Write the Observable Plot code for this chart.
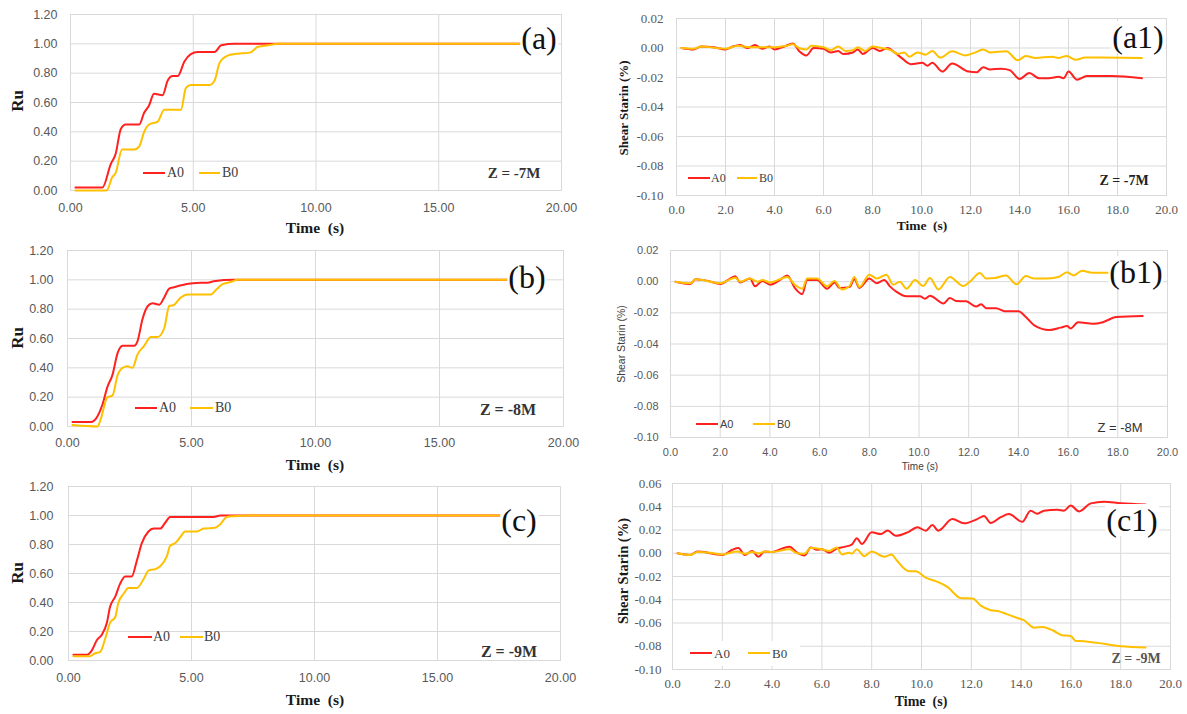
<!DOCTYPE html>
<html><head><meta charset="utf-8">
<script src="https://cdn.jsdelivr.net/npm/d3@7"></script>
<script src="https://cdn.jsdelivr.net/npm/@observablehq/plot@0.6"></script>
<style>
body{margin:0;background:#fff;}
#root{position:relative;width:1187px;height:714px;overflow:hidden;background:#fff;}
#root svg{position:absolute;}
.abs{position:absolute;white-space:pre;line-height:1;}
.serif{font-family:"Liberation Serif","Times New Roman",serif;}
.sans{font-family:"Liberation Sans",Arial,sans-serif;}
</style></head><body><div id="root"></div>
<script>
// ---- tick values ----
const ruXTicks = [0, 5, 10, 15, 20];
const ruYTicks = [0, 0.2, 0.4, 0.6, 0.8, 1.0, 1.2];
const stXTicks = [0, 2, 4, 6, 8, 10, 12, 14, 16, 18, 20];
const stYTicks = [-0.10, -0.08, -0.06, -0.04, -0.02, 0.00, 0.02];
const stYTicksC = [-0.10, -0.08, -0.06, -0.04, -0.02, 0.00, 0.02, 0.04, 0.06];

// ---- series: [time (s), value] ----
const ruA_A0 = [[0.2,0.02],[1.3,0.02],[1.64,0.18],[1.84,0.25],[2.05,0.42],[2.25,0.45],[2.8,0.45],[3.0,0.53],[3.2,0.58],[3.4,0.66],[3.75,0.65],[3.96,0.75],[4.16,0.78],[4.37,0.78],[4.64,0.88],[4.9,0.93],[5.18,0.945],[5.87,0.945],[6.14,0.99],[6.7,1.0],[19,1.0]];
const ruA_B0 = [[0.2,0.0],[1.47,0.0],[1.7,0.09],[1.84,0.12],[2.1,0.28],[2.6,0.28],[2.8,0.30],[3.0,0.40],[3.2,0.45],[3.55,0.47],[3.82,0.55],[4.5,0.55],[4.7,0.70],[4.9,0.72],[5.66,0.72],[5.87,0.75],[6.07,0.87],[6.4,0.92],[6.7,0.93],[6.96,0.935],[7.3,0.94],[7.64,0.98],[8.05,0.99],[8.46,1.0],[19,1.0]];
const ruB_A0 = [[0.2,0.03],[0.94,0.03],[1.21,0.07],[1.41,0.15],[1.61,0.27],[1.81,0.35],[2.02,0.50],[2.22,0.55],[2.69,0.55],[2.82,0.58],[3.02,0.73],[3.23,0.82],[3.43,0.84],[3.7,0.83],[3.9,0.88],[4.1,0.94],[4.3,0.95],[4.64,0.965],[4.97,0.975],[5.38,0.98],[5.65,0.98],[5.9,0.99],[6.7,1.0],[19,1.0]];
const ruB_B0 = [[0.2,0.01],[1.21,0.0],[1.34,0.05],[1.61,0.20],[1.81,0.21],[2.02,0.35],[2.22,0.40],[2.42,0.41],[2.62,0.40],[2.82,0.49],[3.09,0.55],[3.36,0.61],[3.63,0.61],[3.9,0.67],[4.1,0.82],[4.3,0.83],[4.57,0.88],[4.84,0.90],[5.78,0.90],[5.98,0.93],[6.25,0.97],[6.59,0.985],[6.85,1.0],[19,1.0]];
const ruC_A0 = [[0.2,0.04],[0.75,0.04],[0.95,0.07],[1.15,0.14],[1.36,0.18],[1.56,0.26],[1.69,0.37],[1.9,0.44],[2.1,0.53],[2.3,0.58],[2.57,0.58],[2.78,0.69],[2.98,0.81],[3.25,0.89],[3.46,0.91],[3.73,0.91],[3.93,0.95],[4.13,0.99],[4.81,0.99],[5.9,0.99],[6.17,1.0],[19,1.0]];
const ruC_B0 = [[0.2,0.03],[0.88,0.03],[1.08,0.05],[1.29,0.06],[1.49,0.15],[1.69,0.26],[1.9,0.30],[2.03,0.40],[2.24,0.46],[2.44,0.50],[2.78,0.50],[3.05,0.56],[3.25,0.62],[3.52,0.63],[3.73,0.65],[4.0,0.72],[4.13,0.79],[4.34,0.81],[4.54,0.85],[4.74,0.89],[5.22,0.89],[5.49,0.91],[5.96,0.915],[6.17,0.94],[6.44,0.99],[6.7,0.995],[7.4,1.0],[19,1.0]];

const stA_A0 = [[0.2,0],[0.7,-0.001],[1.0,0.001],[1.5,0.0005],[2.0,-0.001],[2.3,0.001],[2.6,0.002],[2.9,0.0],[3.2,0.002],[3.5,-0.0005],[3.8,0.001],[4.0,-0.001],[4.4,0.001],[4.75,0.003],[5.0,-0.002],[5.3,-0.005],[5.6,0.0],[6.0,-0.0005],[6.3,-0.003],[6.6,-0.002],[6.8,-0.004],[7.2,-0.003],[7.4,-0.001],[7.6,-0.004],[8.0,0.0],[8.3,-0.002],[8.63,0.0],[8.9,-0.003],[9.17,-0.0065],[9.57,-0.011],[10.04,-0.010],[10.24,-0.012],[10.44,-0.010],[10.85,-0.016],[11.25,-0.0105],[11.92,-0.016],[12.25,-0.0165],[12.52,-0.013],[12.79,-0.0145],[13.26,-0.014],[13.6,-0.015],[14.0,-0.021],[14.4,-0.017],[14.8,-0.0205],[15.2,-0.0205],[15.6,-0.0195],[15.8,-0.0205],[16.0,-0.016],[16.35,-0.0215],[16.75,-0.019],[17.76,-0.019],[19.0,-0.0205]];
const stA_B0 = [[0.2,0],[0.7,-0.0005],[1.0,0.001],[2.0,-0.0005],[2.5,0.0015],[3.0,0.0005],[3.5,0.0005],[4.0,0.0005],[4.5,0.0015],[4.75,0.0025],[5.0,0.0],[5.3,-0.001],[5.5,0.0015],[6.0,0.0005],[6.3,-0.0015],[6.6,0.001],[6.9,-0.002],[7.2,-0.0015],[7.4,0.0005],[7.7,-0.002],[8.0,0.001],[8.36,0.0],[8.76,-0.0015],[9.03,-0.004],[9.3,-0.003],[9.5,-0.006],[9.84,-0.003],[10.17,-0.0045],[10.44,-0.002],[10.77,-0.0065],[11.25,-0.0022],[11.79,-0.005],[12.12,-0.0035],[12.52,-0.001],[12.79,-0.003],[13.46,-0.0022],[13.93,-0.0083],[14.26,-0.0054],[14.66,-0.0067],[15.33,-0.006],[15.6,-0.0067],[15.93,-0.0054],[16.28,-0.008],[16.68,-0.0065],[19.0,-0.0067]];
const stB_A0 = [[0.2,0],[0.8,-0.0015],[1.0,0.0015],[1.5,0.0005],[2.0,-0.0015],[2.4,0.002],[2.6,0.0035],[2.8,-0.0005],[3.2,0.002],[3.4,-0.003],[3.7,0.0005],[4.0,-0.002],[4.4,0.001],[4.7,0.004],[5.0,-0.004],[5.3,-0.008],[5.5,0.001],[5.9,0.001],[6.3,-0.0045],[6.6,-0.0005],[6.8,-0.004],[7.2,-0.0035],[7.4,0.0015],[7.6,-0.004],[8.0,0.002],[8.3,-0.001],[8.6,0.001],[8.83,-0.003],[9.1,-0.0066],[9.5,-0.0094],[10.04,-0.0094],[10.24,-0.011],[10.44,-0.009],[10.98,-0.014],[11.24,-0.0105],[11.5,-0.0124],[11.9,-0.0126],[12.3,-0.016],[12.5,-0.0145],[12.7,-0.017],[13.1,-0.017],[13.45,-0.019],[14.0,-0.019],[14.3,-0.0226],[14.64,-0.028],[15.25,-0.031],[15.7,-0.0295],[15.96,-0.0285],[16.1,-0.030],[16.4,-0.026],[17.0,-0.027],[17.4,-0.026],[17.93,-0.0227],[19.0,-0.022]];
const stB_B0 = [[0.2,0],[0.8,-0.001],[1.0,0.0015],[2.0,-0.001],[2.4,0.0015],[2.6,0.0025],[2.8,0.0],[3.2,0.002],[3.5,0.0],[3.7,0.001],[4.0,-0.0005],[4.4,0.0015],[4.7,0.003],[5.0,-0.002],[5.3,-0.0045],[5.5,0.002],[5.9,0.002],[6.3,-0.003],[6.6,0.0005],[6.9,-0.005],[7.2,-0.003],[7.4,0.003],[7.6,-0.0035],[8.0,0.0045],[8.3,0.002],[8.69,0.0045],[8.96,-0.002],[9.23,0.0],[9.5,-0.0045],[9.84,0.001],[10.17,-0.0028],[10.44,0.0023],[10.78,-0.005],[11.24,0.003],[11.78,-0.0028],[12.05,0.0],[12.45,0.0056],[12.7,0.002],[13.05,0.0023],[13.5,0.004],[13.92,-0.0017],[14.3,0.0036],[14.64,0.002],[15.1,0.002],[15.6,0.003],[15.96,0.006],[16.23,0.004],[16.56,0.007],[16.97,0.0057],[19.0,0.0057]];
const stC_A0 = [[0.2,0],[0.7,-0.0015],[1.0,0.0015],[1.3,0.001],[1.5,0.0],[2.0,-0.0015],[2.4,0.003],[2.65,0.0045],[2.9,-0.0015],[3.2,0.002],[3.45,-0.003],[3.7,0.0015],[4.0,0.001],[4.4,0.004],[4.7,0.0055],[5.0,0.0005],[5.3,-0.002],[5.55,0.005],[5.8,0.003],[6.0,0.0035],[6.3,0.0005],[6.6,0.004],[6.9,0.0055],[7.2,0.0075],[7.4,0.013],[7.6,0.008],[8.0,0.018],[8.37,0.0165],[8.64,0.0195],[8.97,0.015],[9.44,0.018],[9.84,0.0223],[10.17,0.0194],[10.44,0.0243],[10.67,0.0194],[11.24,0.0294],[11.71,0.0257],[12.24,0.0294],[12.51,0.032],[12.78,0.026],[13.18,0.031],[13.51,0.0337],[14.05,0.027],[14.38,0.0366],[14.65,0.034],[14.92,0.0366],[15.45,0.0374],[15.72,0.0366],[15.99,0.041],[16.33,0.036],[16.8,0.0429],[17.33,0.0443],[18.0,0.043],[19.0,0.042]];
const stC_B0 = [[0.2,0],[0.7,-0.0015],[1.0,0.001],[1.5,0.0005],[2.0,-0.001],[2.6,0.0015],[2.9,-0.0005],[3.2,0.001],[3.5,0.0],[3.7,0.0015],[4.0,0.001],[4.7,0.0035],[5.0,0.0],[5.3,-0.0005],[5.55,0.0045],[6.0,0.0035],[6.3,0.002],[6.6,0.005],[6.8,-0.001],[7.1,0.0005],[7.2,-0.0005],[7.4,0.0035],[7.7,-0.0025],[8.0,0.0015],[8.5,-0.003],[8.8,-0.001],[9.0,-0.006],[9.5,-0.0154],[9.77,-0.0154],[10.17,-0.021],[10.57,-0.024],[11.04,-0.029],[11.58,-0.0386],[12.05,-0.039],[12.38,-0.045],[12.78,-0.049],[13.12,-0.050],[13.45,-0.0526],[13.85,-0.0557],[14.12,-0.0577],[14.52,-0.064],[14.85,-0.0634],[15.32,-0.0669],[15.65,-0.0706],[15.99,-0.0711],[16.19,-0.0754],[16.52,-0.0757],[17.06,-0.0771],[18.0,-0.080],[19.0,-0.081]];

const RED = "#ff2020";
const YEL = "#ffc000";
const GRID = "#d9d9d9";
const root = document.getElementById("root");

function panel(c) {
  const svg = Plot.plot({
    width: c.w, height: c.h,
    marginLeft: c.ml, marginRight: c.mr, marginTop: c.mt, marginBottom: c.mb,
    x: {domain: [0, 20]},
    y: {domain: c.ydom},
    style: {fontFamily: c.font, fontSize: c.fs + "px", color: "#595959", background: "transparent", overflow: "visible"},
    marks: [
      Plot.gridX(c.xt, {stroke: GRID, strokeOpacity: 1, strokeWidth: 1}),
      Plot.gridY(c.yt, {stroke: GRID, strokeOpacity: 1, strokeWidth: 1}),
      Plot.frame({stroke: GRID, strokeWidth: 1}),
      Plot.axisX(c.xt, {tickSize: 0, tickPadding: c.xpad, tickFormat: d => d.toFixed(c.xdec), label: null}),
      Plot.axisY(c.yt, {tickSize: 0, tickPadding: c.ypad, tickFormat: d => d.toFixed(2), label: null}),
      Plot.line(c.A, {x: d => d[0], y: d => d[1], stroke: RED, strokeWidth: 2, curve: "monotone-x"}),
      Plot.line(c.B, {x: d => d[0], y: d => d[1], stroke: YEL, strokeWidth: 2, curve: "monotone-x"})
    ]
  });
  svg.style.left = c.left + "px";
  svg.style.top = c.top + "px";
  root.appendChild(svg);
}

function txt(s, cx, cy, cls, css, rot) {
  const d = document.createElement("div");
  d.className = "abs " + cls;
  d.textContent = s;
  d.style.left = cx + "px";
  d.style.top = cy + "px";
  d.style.transform = "translate(-50%,-50%)" + (rot ? " rotate(-90deg)" : "");
  Object.assign(d.style, css || {});
  root.appendChild(d);
  return d;
}
function box(x, y, w, h, color) {
  const d = document.createElement("div");
  d.className = "abs";
  Object.assign(d.style, {left: x + "px", top: y + "px", width: w + "px", height: h + "px", background: color});
  root.appendChild(d);
}
function legend(y, cls, fs, items) {
  for (const it of items) {
    box(it[0], y - 1.25, it[1] - it[0], 2.5, it[2]);
    const d = txt(it[4], it[3], y, cls, {fontSize: fs + "px", color: "#404040"});
    d.style.transform = "translate(0,-50%)";
  }
}

// ---- left column (Ru) ----
panel({left: 0, top: 0, w: 590, h: 225, ml: 70, mr: 29, mt: 14, mb: 35, ydom: [0, 1.2], xt: ruXTicks, yt: ruYTicks, xdec: 2, font: "Liberation Sans", fs: 12.5, xpad: 13, ypad: 13, A: ruA_A0, B: ruA_B0});
panel({left: 0, top: 235, w: 590, h: 225, ml: 67, mr: 27, mt: 15, mb: 34, ydom: [0, 1.2], xt: ruXTicks, yt: ruYTicks, xdec: 2, font: "Liberation Sans", fs: 12.5, xpad: 12, ypad: 14, A: ruB_A0, B: ruB_B0});
panel({left: 0, top: 470, w: 590, h: 225, ml: 68, mr: 30, mt: 16, mb: 35, ydom: [0, 1.2], xt: ruXTicks, yt: ruYTicks, xdec: 2, font: "Liberation Sans", fs: 12.5, xpad: 13, ypad: 15, A: ruC_A0, B: ruC_B0});

// ---- right column (shear strain) ----
panel({left: 595, top: 0, w: 592, h: 230, ml: 81, mr: 21, mt: 18, mb: 35, ydom: [-0.10, 0.02], xt: stXTicks, yt: stYTicks, xdec: 1, font: "Liberation Serif", fs: 13, xpad: 9, ypad: 13, A: stA_A0, B: stA_B0});
panel({left: 595, top: 235, w: 592, h: 230, ml: 75, mr: 20, mt: 15, mb: 28, ydom: [-0.10, 0.02], xt: stXTicks, yt: stYTicks, xdec: 1, font: "Liberation Sans", fs: 11, xpad: 11, ypad: 12, A: stB_A0, B: stB_B0});
panel({left: 595, top: 470, w: 592, h: 244, ml: 77, mr: 17, mt: 13, mb: 45, ydom: [-0.10, 0.06], xt: stXTicks, yt: stYTicksC, xdec: 1, font: "Liberation Serif", fs: 13, xpad: 9, ypad: 11, A: stC_A0, B: stC_B0});

// white box behind c1 legend
box(673, 641, 127, 25, "#fff");

// ---- axis titles ----
const bs = {fontWeight: "bold", color: "#1a1a1a"};
txt("Time  (s)", 315, 228, "serif", {...bs, fontSize: "15.5px"});
txt("Time  (s)", 315, 465, "serif", {...bs, fontSize: "15.5px"});
txt("Time  (s)", 315, 700, "serif", {...bs, fontSize: "15.5px"});
txt("Ru", 17, 101, "serif", {...bs, fontSize: "17px"}, true);
txt("Ru", 17, 338, "serif", {...bs, fontSize: "17px"}, true);
txt("Ru", 17, 573, "serif", {...bs, fontSize: "17px"}, true);
txt("Time  (s)", 922, 226, "serif", {...bs, fontSize: "13.5px"});
txt("Time (s)", 920, 467, "sans", {fontSize: "10px", color: "#404040"});
txt("Time  (s)", 921, 702, "serif", {...bs, fontSize: "14px"});
txt("Shear Starin (%)", 623, 108, "serif", {...bs, fontSize: "13px"}, true);
txt("Shear Starin (%)", 621, 344, "sans", {fontSize: "10.5px", color: "#404040"}, true);
txt("Shear Starin (%)", 623, 571, "serif", {...bs, fontSize: "14.5px"}, true);

// ---- legends ----
legend(173, "serif", 14, [[143, 165, RED, 167, "A0"], [199, 220, YEL, 222, "B0"]]);
legend(408, "serif", 14, [[135, 157, RED, 159, "A0"], [190, 213, YEL, 215, "B0"]]);
legend(637, "serif", 14, [[128, 152, RED, 153, "A0"], [180, 203, YEL, 204, "B0"]]);
legend(178, "serif", 12, [[688, 710, RED, 711, "A0"], [737, 757, YEL, 759, "B0"]]);
legend(424, "sans", 11, [[696, 718, RED, 720, "A0"], [753, 775, YEL, 777, "B0"]]);
legend(653, "serif", 13, [[690, 712, RED, 714, "A0"], [748, 770, YEL, 772, "B0"]]);

// ---- depth labels ----
txt("Z = -7M", 514, 173, "serif", {...bs, fontSize: "15px", color: "#333"});
txt("Z = -8M", 508, 410, "serif", {...bs, fontSize: "16px", color: "#333"});
txt("Z = -9M", 509, 652, "serif", {...bs, fontSize: "16px", color: "#333"});
txt("Z = -7M", 1124, 181, "serif", {...bs, fontSize: "14px", color: "#222"});
txt("Z = -8M", 1120, 427, "sans", {fontSize: "13px", color: "#333"});
txt("Z = -9M", 1136, 659, "serif", {...bs, fontSize: "14px", color: "#555"});

// ---- panel letters ----
const pl = {fontSize: "32px", color: "#111", background: "#fff", padding: "0 1px"};
txt("(a)", 539, 38, "serif", pl);
txt("(b)", 527, 277, "serif", pl);
txt("(c)", 519, 520, "serif", pl);
txt("(a1)", 1138, 37, "serif", pl);
txt("(b1)", 1136, 272, "serif", pl);
txt("(c1)", 1132, 520, "serif", pl);
</script>
</body></html>
